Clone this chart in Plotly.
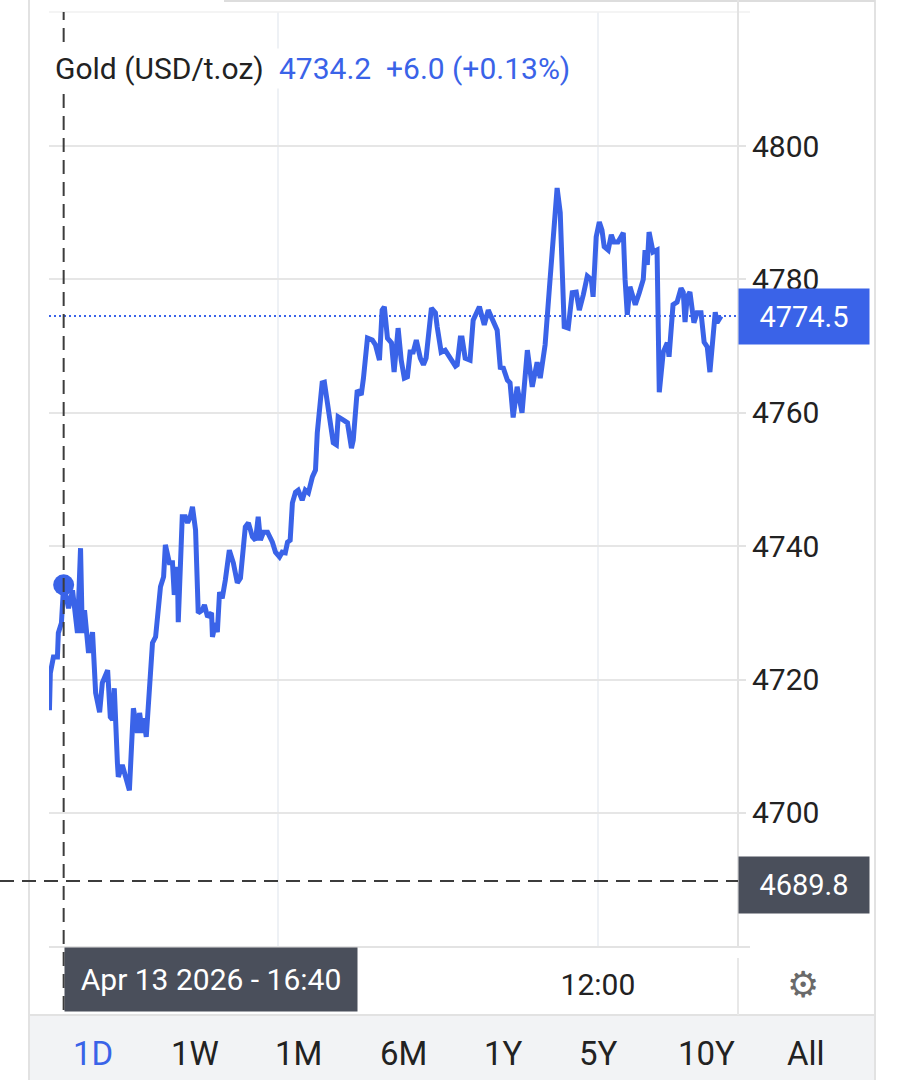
import pandas as pd
import plotly.graph_objects as go

# ---------------- data ----------------
START = "2026-04-13 15:25"
minutes = [0, 2, 9, 18, 20, 27, 32, 41, 43, 52, 59, 63, 70, 74, 79, 83, 88, 97, 104, 113,
           119, 131, 137, 142, 146, 153, 155, 164, 171, 180, 189, 198, 203, 209, 212, 218,
           232, 239, 250, 257, 261, 270, 277, 281, 288, 290, 299, 306, 311, 317, 322, 329,
           335, 344, 349, 356, 365, 367, 374, 378, 383, 389, 396, 405, 414, 423, 430, 441,
           448, 457, 464, 470, 475, 482, 491, 502, 509, 518, 524, 531, 536, 542, 547, 554,
           560, 569, 576, 583, 592, 599, 603, 610, 614, 619, 628, 639, 646, 650, 662, 671,
           680, 684, 693, 702, 707, 716, 727, 734, 743, 749, 754, 761, 770, 776, 785, 792,
           799, 806, 812, 819, 826, 835, 842, 848, 860, 869, 873, 882, 891, 900, 907, 914,
           918, 925, 929, 936, 947, 954, 968, 979, 988, 999, 1008, 1015, 1022, 1031, 1037,
           1044, 1053, 1064, 1076, 1087, 1098, 1105, 1116, 1127, 1134, 1143, 1150, 1159,
           1168, 1177, 1186, 1193, 1202, 1211, 1220, 1224, 1231, 1238, 1244, 1249, 1258,
           1265, 1271, 1280, 1287, 1292, 1296, 1301, 1307, 1319, 1328, 1337, 1341, 1346,
           1350, 1359, 1368, 1373, 1382, 1391, 1395, 1404, 1413, 1422, 1427, 1431, 1436,
           1442, 1451, 1458, 1467, 1474, 1481, 1487, 1499, 1503, 1512]
prices = [4715.4, 4721.0, 4723.4, 4723.4, 4727.0, 4728.5, 4734.2, 4731.5, 4730.7, 4733.4,
          4729.4, 4727.0, 4739.7, 4727.0, 4730.4, 4726.4, 4724.0, 4727.1, 4718.0, 4715.1,
          4719.5, 4721.4, 4714.4, 4714.0, 4718.7, 4707.5, 4705.4, 4707.2, 4705.4, 4703.4,
          4715.7, 4712.0, 4715.0, 4712.0, 4714.2, 4711.4, 4725.5, 4726.4, 4733.9, 4735.4,
          4740.2, 4737.5, 4737.5, 4732.7, 4736.9, 4728.6, 4744.4, 4744.4, 4743.5, 4744.4,
          4745.9, 4742.4, 4730.0, 4730.4, 4731.2, 4729.4, 4730.0, 4726.4, 4728.5, 4727.1,
          4733.1, 4732.2, 4734.9, 4739.4, 4737.5, 4734.5, 4735.2, 4742.9, 4743.5, 4741.4,
          4740.9, 4744.4, 4740.9, 4742.1, 4742.1, 4740.6, 4739.1, 4738.4, 4739.1, 4739.0,
          4740.6, 4740.9, 4746.5, 4748.1, 4748.4, 4746.9, 4748.4, 4748.0, 4750.4, 4751.4,
          4757.0, 4762.5, 4764.5, 4764.6, 4760.9, 4755.5, 4755.2, 4759.4, 4758.9, 4758.5,
          4754.7, 4755.9, 4763.4, 4762.7, 4765.2, 4771.2, 4770.9, 4770.2, 4767.9, 4775.4,
          4775.9, 4771.2, 4770.5, 4766.1, 4772.7, 4767.9, 4765.2, 4765.4, 4769.1, 4769.1,
          4770.9, 4768.2, 4767.2, 4768.2, 4775.7, 4775.0, 4772.9, 4769.1, 4769.4, 4768.4,
          4767.9, 4767.0, 4767.2, 4771.2, 4771.2, 4768.2, 4767.9, 4773.9, 4775.9, 4773.2,
          4775.4, 4773.9, 4772.4, 4766.8, 4766.7, 4764.9, 4764.5, 4759.3, 4763.9, 4760.0,
          4769.4, 4763.9, 4767.6, 4765.2, 4770.2, 4779.9, 4786.4, 4793.7, 4790.0, 4772.9,
          4772.7, 4778.0, 4778.1, 4775.4, 4777.7, 4780.5, 4780.0, 4777.4, 4786.4, 4788.6,
          4787.4, 4784.9, 4784.4, 4786.7, 4785.6, 4785.6, 4786.4, 4787.0, 4780.0, 4774.7,
          4778.9, 4776.2, 4778.0, 4780.0, 4784.4, 4782.2, 4787.1, 4784.1, 4784.4, 4763.1,
          4769.1, 4770.5, 4768.4, 4776.2, 4776.6, 4778.7, 4778.1, 4773.6, 4777.4, 4778.1,
          4773.5, 4775.0, 4775.0, 4770.6, 4769.9, 4766.1, 4775.1, 4773.5, 4774.5]

y_ticks = [4700, 4720, 4740, 4760, 4780, 4800]
x_tickvals = ["2026-04-14 00:00", "2026-04-14 12:00"]
x_ticktext = ["", "12:00"]
range_buttons = ["1D", "1W", "1M", "6M", "1Y", "5Y", "10Y", "All"]

title_name = "Gold (USD/t.oz)"
title_price = "4734.2"
title_change = "+6.0 (+0.13%)"
last_price = 4774.5
cursor_price = 4689.8
cursor_index = 6
cursor_label = "Apr 13 2026 - 16:40"

# ---------------- styling ----------------
BLUE = "#3a63e8"
DARK = "#4a4f5b"
TXT = "#222222"
GRID = "#e6e6e6"
FONT = "Roboto"

W, H = 899, 1080
L, R, T, B = 49, 738, 12, 947  # plot area in pixels


def px(xp):
    return (xp - L) / (R - L)


def py(yp):
    return (B - yp) / (B - T)


times = pd.Timestamp(START) + pd.to_timedelta(minutes, unit="min")
x_end = pd.Timestamp(START) + pd.Timedelta(minutes=(R - L) * 2.25)
cursor_t = times[cursor_index]

fig = go.Figure()
fig.add_trace(go.Scatter(x=times, y=prices, mode="lines",
                         line=dict(color=BLUE, width=5, shape="linear"),
                         hoverinfo="skip", showlegend=False))
fig.add_trace(go.Scatter(x=[cursor_t], y=[prices[cursor_index]], mode="markers",
                         marker=dict(color=BLUE, size=21), hoverinfo="skip",
                         showlegend=False))

shapes = []
# page frame
shapes.append(dict(type="rect", xref="paper", yref="paper", x0=px(29), x1=px(875),
                   y0=py(1015), y1=py(1080), fillcolor="#f2f3f5", line=dict(width=0),
                   layer="below"))
shapes.append(dict(type="line", xref="paper", yref="paper", x0=px(29), x1=px(875),
                   y0=py(1015), y1=py(1015), line=dict(color="#e2e2e2", width=2)))
for xv in (29, 875):
    shapes.append(dict(type="line", xref="paper", yref="paper", x0=px(xv), x1=px(xv),
                       y0=py(0), y1=py(1080), line=dict(color="#e2e2e2", width=2)))
shapes.append(dict(type="line", xref="paper", yref="paper", x0=px(224), x1=px(875),
                   y0=py(1), y1=py(1), line=dict(color="#dddddd", width=2)))
shapes.append(dict(type="line", xref="paper", yref="paper", x0=0, x1=px(750),
                   y0=1, y1=1, line=dict(color="#f0f0f0", width=1.5)))
shapes.append(dict(type="line", xref="paper", yref="paper", x0=1, x1=1,
                   y0=py(0), y1=0, line=dict(color="#e3e3e3", width=2)))
shapes.append(dict(type="line", xref="paper", yref="paper", x0=1, x1=1,
                   y0=py(958), y1=py(1015), line=dict(color="#e8e8e8", width=2)))
shapes.append(dict(type="line", xref="paper", yref="paper", x0=0, x1=px(750),
                   y0=0, y1=0, line=dict(color="#e3e3e3", width=2)))
# last price dotted line
shapes.append(dict(type="line", xref="paper", yref="y", x0=0, x1=1,
                   y0=last_price, y1=last_price,
                   line=dict(color=BLUE, width=2, dash="2px,3px"), layer="below"))
# crosshair
shapes.append(dict(type="line", xref="x", yref="paper", x0=cursor_t, x1=cursor_t,
                   y0=py(1010), y1=1, line=dict(color="#3c3c3c", width=2, dash="14px,8px")))
shapes.append(dict(type="line", xref="paper", yref="y", x0=px(0), x1=1,
                   y0=cursor_price, y1=cursor_price,
                   line=dict(color="#3c3c3c", width=2, dash="14px,8px")))

ann = []
ann.append(dict(xref="paper", yref="paper", x=px(52), y=py(68), xanchor="left",
                yanchor="middle", text=title_name, showarrow=False, bgcolor="white",
                borderpad=2, font=dict(family=FONT, size=30, color=TXT)))
ann.append(dict(xref="paper", yref="paper", x=px(276), y=py(68), xanchor="left",
                yanchor="middle", text=title_price, showarrow=False, bgcolor="white",
                borderpad=2, font=dict(family=FONT, size=30, color=BLUE)))
ann.append(dict(xref="paper", yref="paper", x=px(383), y=py(68), xanchor="left",
                yanchor="middle", text=title_change, showarrow=False, bgcolor="white",
                borderpad=2, font=dict(family=FONT, size=30, color=BLUE)))
# price boxes
ann.append(dict(xref="paper", yref="y", x=1, y=last_price, xanchor="left",
                yanchor="middle", text=f"{last_price:.1f}", showarrow=False,
                bgcolor=BLUE, width=122, height=47, borderpad=4,
                font=dict(family=FONT, size=29, color="white")))
ann.append(dict(xref="paper", yref="y", x=1, y=cursor_price, xanchor="left",
                yanchor="middle", yshift=-4, text=f"{cursor_price:.1f}", showarrow=False,
                bgcolor=DARK, width=122, height=48, borderpad=4,
                font=dict(family=FONT, size=29, color="white")))
ann.append(dict(xref="x", yref="paper", x=cursor_t, y=0, xanchor="left",
                yanchor="top", text=cursor_label, showarrow=False,
                bgcolor=DARK, width=280, height=51, borderpad=6,
                font=dict(family=FONT, size=30, color="white")))
# gear
ann.append(dict(xref="paper", yref="paper", x=px(803), y=py(985), xanchor="center",
                yanchor="middle", text="\u2699", showarrow=False,
                font=dict(family="DejaVu Sans", size=36, color="#6a6a6a")))
# range buttons
btn_x = [93, 195, 298, 403, 503, 598, 706, 806]
for lab, bx in zip(range_buttons, btn_x):
    ann.append(dict(xref="paper", yref="paper", x=px(bx), y=py(1053), xanchor="center",
                    yanchor="middle", text=lab, showarrow=False,
                    font=dict(family=FONT, size=33,
                              color=BLUE if lab == "1D" else TXT)))

fig.update_layout(
    width=W, height=H,
    margin=dict(l=L, r=W - R, t=T, b=H - B, autoexpand=False),
    paper_bgcolor="white", plot_bgcolor="white",
    shapes=shapes, annotations=ann, showlegend=False,
    font=dict(family=FONT, color=TXT),
    xaxis=dict(type="date", range=[pd.Timestamp(START) - pd.Timedelta(minutes=1), x_end],
               tickvals=x_tickvals, ticktext=x_ticktext, showgrid=True,
               gridcolor="#eef1f5", gridwidth=2, ticks="", showline=False,
               zeroline=False, tickfont=dict(family=FONT, size=30, color=TXT),
               ticklabelstandoff=17),
    yaxis=dict(side="right", range=[4679.9, 4820.1], tickvals=y_ticks,
               showgrid=True, gridcolor=GRID, gridwidth=2, ticks="outside",
               ticklen=7, tickcolor="#e3e3e3", tickwidth=2, zeroline=False,
               showline=False, tickfont=dict(family=FONT, size=30, color=TXT),
               ticklabelstandoff=0),
)

fig.write_html("out.html")
